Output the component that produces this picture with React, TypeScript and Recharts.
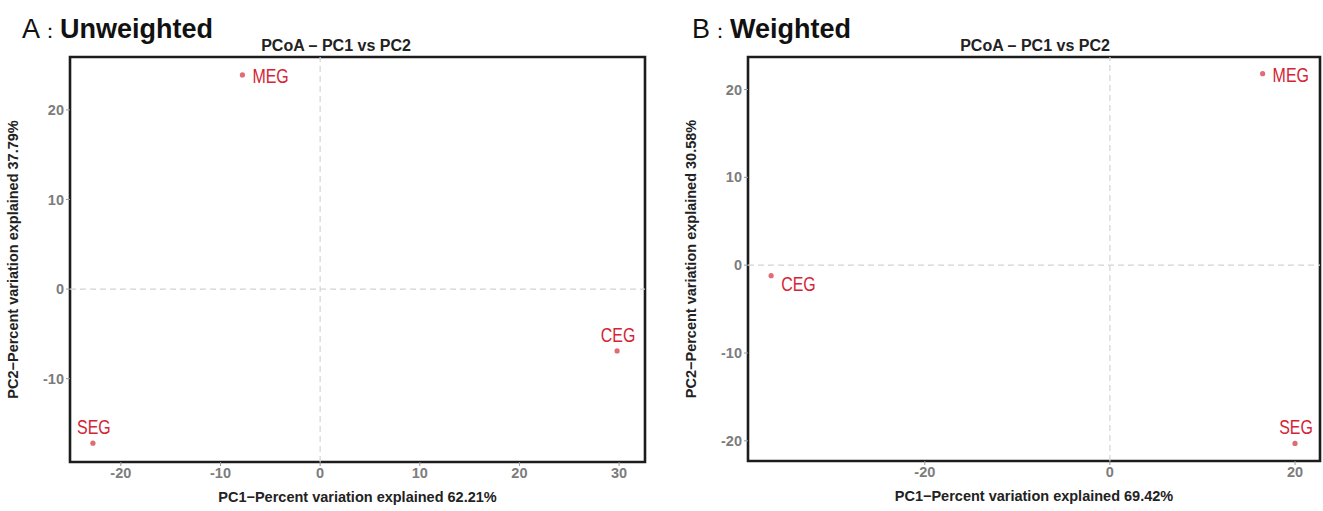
import React from 'react';
import { ScatterChart, Scatter, XAxis, YAxis, ReferenceLine, ReferenceArea } from 'recharts';

// ---------- Panel A: Unweighted ----------
const groupsA = ['MEG', 'SEG', 'CEG'];
const pc1A = [-7.8, -22.8, 29.8];
const pc2A = [23.9, -17.2, -6.9];
const placeA = ['right', 'above', 'above'];
const xTicksA = [-20, -10, 0, 10, 20, 30];
const yTicksA = [-10, 0, 10, 20];
const xDomainA = [-25.1, 32.6];
const yDomainA = [-19.3, 25.9];
const xLabelA = 'PC1\u2212Percent variation explained 62.21%';
const yLabelA = 'PC2\u2212Percent variation explained 37.79%';

// ---------- Panel B: Weighted ----------
const groupsB = ['MEG', 'CEG', 'SEG'];
const pc1B = [16.5, -36.6, 20.0];
const pc2B = [21.8, -1.2, -20.3];
const placeB = ['right', 'rightBelow', 'above'];
const xTicksB = [-20, 0, 20];
const yTicksB = [-20, -10, 0, 10, 20];
const xDomainB = [-39.1, 22.7];
const yDomainB = [-22.3, 23.7];
const xLabelB = 'PC1\u2212Percent variation explained 69.42%';
const yLabelB = 'PC2\u2212Percent variation explained 30.58%';

const chartTitle = 'PCoA \u2013 PC1 vs PC2';

const FONT = "'Liberation Sans', Arial, Helvetica, sans-serif";
const POINT_COLOR = '#e06c75';
const LABEL_COLOR = '#d42436';
const TICK_COLOR = '#7c7c7c';

const build = (names: string[], xs: number[], ys: number[], places: string[]) =>
  names.map((name, i) => ({ name, x: xs[i], y: ys[i], place: places[i] }));

const dataA = build(groupsA, pc1A, pc2A, placeA);
const dataB = build(groupsB, pc1B, pc2B, placeB);

const PointShape = (props: any) => {
  const { cx, cy, payload } = props;
  let tx = cx + 10;
  let ty = cy + 8;
  let anchor: 'start' | 'middle' = 'start';
  if (payload.place === 'above') {
    tx = cx + 1;
    ty = cy - 9;
    anchor = 'middle';
  } else if (payload.place === 'rightBelow') {
    tx = cx + 10;
    ty = cy + 15;
  }
  return (
    <g>
      <circle cx={cx} cy={cy} r={2.6} fill={POINT_COLOR} />
      <text
        transform={`translate(${tx}, ${ty}) scale(0.76, 1)`}
        textAnchor={anchor}
        fill={LABEL_COLOR}
        fontSize={21}
        fontFamily={FONT}
      >
        {payload.name}
      </text>
    </g>
  );
};

const tickStyle = { fill: TICK_COLOR, fontSize: 14.5, fontWeight: 700, fontFamily: FONT };

const XLab = (text: string) => (props: any) => {
  const vb = props.viewBox;
  return (
    <text x={vb.x + vb.width / 2} y={vb.y + 40} textAnchor="middle" fontSize={14.5} fontWeight={700} fill="#222" fontFamily={FONT}>
      {text}
    </text>
  );
};

const YLab = (text: string, dx: number) => (props: any) => {
  const vb = props.viewBox;
  const x = vb.x + dx;
  const y = vb.y + vb.height / 2;
  return (
    <text x={x} y={y} transform={`rotate(-90, ${x}, ${y})`} textAnchor="middle" fontSize={14.5} fontWeight={700} fill="#222" fontFamily={FONT}>
      {text}
    </text>
  );
};

type PanelProps = {
  data: any[];
  width: number;
  margin: any;
  xTicks: number[];
  yTicks: number[];
  xDomain: number[];
  yDomain: number[];
  xLabel: string;
  yLabel: string;
  yLabelDx: number;
  letter: string;
  panelName: string;
  letterX: number;
  titleX: number;
};

const Panel = (p: PanelProps) => {
  return (
    <ScatterChart width={p.width} height={511} margin={p.margin}>
      <XAxis
        type="number"
        dataKey="x"
        domain={p.xDomain}
        ticks={p.xTicks}
        allowDataOverflow
        height={30}
        axisLine={false}
        tickSize={4}
        tickLine={{ stroke: '#9a9a9a' }}
        tick={tickStyle}
        label={{ content: XLab(p.xLabel) }}
      />
      <YAxis
        type="number"
        dataKey="y"
        domain={p.yDomain}
        ticks={p.yTicks}
        allowDataOverflow
        width={50}
        axisLine={false}
        tickSize={4}
        tickLine={{ stroke: '#9a9a9a' }}
        tick={tickStyle}
        label={{ content: YLab(p.yLabel, p.yLabelDx) }}
      />
      <ReferenceLine x={0} stroke="#d4d4d4" strokeDasharray="6 4" strokeWidth={1.2} />
      <ReferenceLine y={0} stroke="#d4d4d4" strokeDasharray="6 4" strokeWidth={1.2} />
      <ReferenceArea
        x1={p.xDomain[0]}
        x2={p.xDomain[1]}
        y1={p.yDomain[0]}
        y2={p.yDomain[1]}
        fill="none"
        fillOpacity={0}
        stroke="#1c1c1c"
        strokeWidth={2.6}
        ifOverflow="visible"
      />
      <Scatter data={p.data} dataKey="y" shape={PointShape} isAnimationActive={false} />
      <text x={p.letterX} y={38} fontFamily={FONT} fill="#111">
        <tspan fontSize={27}>{p.letter}</tspan>
        <tspan fontSize={20}>{'\uFF1A'}</tspan>
        <tspan fontSize={27} fontWeight={700}>{p.panelName}</tspan>
      </text>
      <text x={p.titleX} y={51} textAnchor="middle" fontSize={16} fontWeight={700} fill="#222" fontFamily={FONT}>
        {chartTitle}
      </text>
    </ScatterChart>
  );
};

export default function App() {
  return (
    <div style={{ position: 'absolute', left: 0, top: 0, width: 1323, height: 511, background: '#fff' }}>
      <div style={{ position: 'absolute', left: 0, top: 0 }}>
        <Panel
          data={dataA}
          width={660}
          margin={{ top: 57, right: 15, bottom: 19, left: 20 }}
          xTicks={xTicksA}
          yTicks={yTicksA}
          xDomain={xDomainA}
          yDomain={yDomainA}
          xLabel={xLabelA}
          yLabel={yLabelA}
          yLabelDx={-2}
          letter="A"
          panelName="Unweighted"
          letterX={22}
          titleX={336}
        />
      </div>
      <div style={{ position: 'absolute', left: 660, top: 0 }}>
        <Panel
          data={dataB}
          width={663}
          margin={{ top: 57, right: 3, bottom: 20, left: 38 }}
          xTicks={xTicksB}
          yTicks={yTicksB}
          xDomain={xDomainB}
          yDomain={yDomainB}
          xLabel={xLabelB}
          yLabel={yLabelB}
          yLabelDx={-2}
          letter="B"
          panelName="Weighted"
          letterX={32}
          titleX={375}
        />
      </div>
    </div>
  );
}
